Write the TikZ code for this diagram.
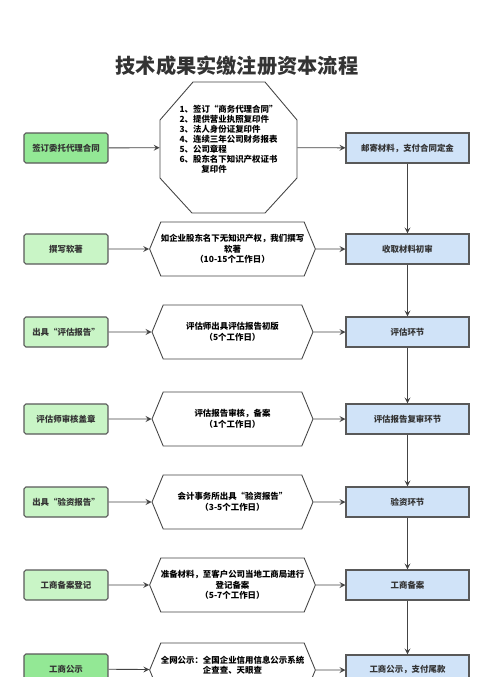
\documentclass[tikz,border=0pt]{standalone}
\usepackage{fontspec}
\setmainfont{Noto Sans CJK SC}
\usetikzlibrary{shapes.symbols,arrows}

\definecolor{greendark}{HTML}{93E895}
\definecolor{greenlight}{HTML}{C9F5C6}
\definecolor{bluelight}{HTML}{D0E3F8}
\definecolor{lineg}{HTML}{444444}

\begin{document}
\begin{tikzpicture}[>=stealth, x=0.02cm, y=-0.02cm,
  conn/.style={->, draw=lineg, line width=0.5pt},
  small/.style={font=\fontsize{4.8}{6}\selectfont\bfseries},
  gbox/.style={draw=black!65, rounded corners=1pt, minimum width=1.68cm, minimum height=0.6cm, small, text=black!80, line width=0.6pt},
  bbox/.style={draw=black!65, fill=bluelight, minimum width=2.46cm, minimum height=0.6cm, small, text=black!80, line width=0.6pt},
  hexbox/.style={draw=lineg, line width=0.5pt, signal, signal to=east and west, signal pointer angle=135, minimum width=3.22cm, minimum height=1.08cm, align=center, inner sep=0pt, small}]
\clip (0,0) rectangle (500,677);

\node[font=\fontsize{11.5}{13}\selectfont\bfseries, text=black!80] (title) at (237,66) {技术成果实缴注册资本流程};

% row 1
\node[gbox, fill=greendark] (g1) at (66,148) {签订委托代理合同};
\node[minimum width=2.74cm, minimum height=2.62cm, inner sep=0pt, align=left, font=\fontsize{4.8}{5.7}\selectfont\bfseries] (oct) at (228.5,147.5) {1、签订“商务代理合同”\\2、提供营业执照复印件\\3、法人身份证复印件\\4、连续三年公司财务报表\\5、公司章程\\6、股东名下知识产权证书\\\hspace*{2.6em}复印件\\[4pt]};
\draw[lineg, line width=0.5pt] (193,82) -- (265,82) -- (297,120) -- (297,178) -- (265,213) -- (192,213) -- (160,178) -- (160,120) -- cycle;
\node[bbox] (b1) at (407.5,148) {邮寄材料，支付合同定金};
\draw[conn] (g1) -- (oct);
\draw[conn] (oct) -- (b1);

% row 2
\node[gbox, fill=greenlight] (g2) at (66,249) {撰写软著};
\node[hexbox] (h2) at (232.5,249) {如企业股东名下无知识产权，我们撰写\\软著\\（10-15个工作日）};
\node[bbox] (b2) at (407.5,249) {收取材料初审};
\draw[conn] (g2) -- (h2);
\draw[conn] (h2) -- (b2);

% row 3
\node[gbox, fill=greenlight] (g3) at (66,332) {出具“评估报告”};
\node[hexbox] (h3) at (232.5,332) {评估师出具评估报告初版\\（5个工作日）};
\node[bbox] (b3) at (407.5,332) {评估环节};
\draw[conn] (g3) -- (h3);
\draw[conn] (h3) -- (b3);

% row 4
\node[gbox, fill=greenlight] (g4) at (66,419) {评估师审核盖章};
\node[hexbox] (h4) at (232.5,419) {评估报告审核，备案\\（1个工作日）};
\node[bbox] (b4) at (407.5,419) {评估报告复审环节};
\draw[conn] (g4) -- (h4);
\draw[conn] (h4) -- (b4);

% row 5
\node[gbox, fill=greenlight] (g5) at (66,502) {出具“验资报告”};
\node[hexbox] (h5) at (232.5,502) {会计事务所出具“验资报告”\\（3-5个工作日）};
\node[bbox] (b5) at (407.5,502) {验资环节};
\draw[conn] (g5) -- (h5);
\draw[conn] (h5) -- (b5);

% row 6
\node[gbox, fill=greenlight] (g6) at (66,585) {工商备案登记};
\node[hexbox] (h6) at (232.5,585) {准备材料，至客户公司当地工商局进行\\登记备案\\（5-7个工作日）};
\node[bbox] (b6) at (407.5,585) {工商备案};
\draw[conn] (g6) -- (h6);
\draw[conn] (h6) -- (b6);

% row 7
\node[gbox, fill=greendark] (g7) at (66,669) {工商公示};
\node[hexbox] (h7) at (232.5,670) {全网公示：全国企业信用信息公示系统\\企查查、天眼查\\\mbox{}};
\node[bbox] (b7) at (407.5,670) {工商公示，支付尾款};
\draw[conn] (g7) -- (h7);
\draw[conn] (h7) -- (b7);

% right column
\draw[conn] (b1) -- (b2);
\draw[conn] (b2) -- (b3);
\draw[conn] (b3) -- (b4);
\draw[conn] (b4) -- (b5);
\draw[conn] (b5) -- (b6);
\draw[conn] (b6) -- (b7);
\end{tikzpicture}
\end{document}
